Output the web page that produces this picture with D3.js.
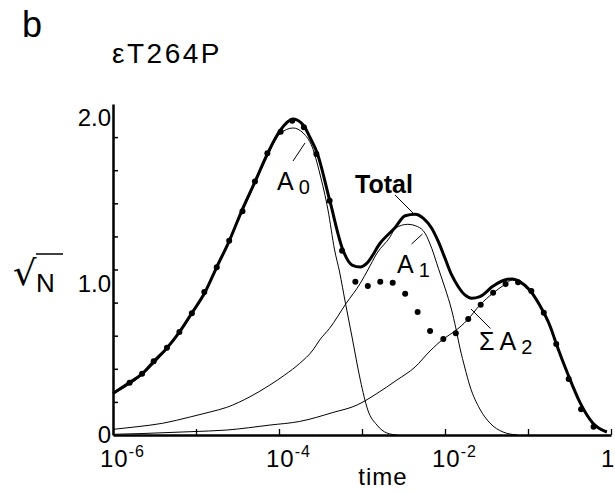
<!DOCTYPE html>
<html>
<head>
<meta charset="utf-8">
<script src="https://cdn.jsdelivr.net/npm/d3@7"></script>
<style>
  body { margin: 0; background: #fff; }
  text { font-family: "Liberation Sans", Arial, sans-serif; fill: #000; }
</style>
</head>
<body>
<svg id="chart" width="615" height="494"></svg>
<script>
// data (time given as log10 exponent)
const dotLogT = [-5.80, -5.65, -5.51, -5.35, -5.20, -5.05, -4.90, -4.75, -4.60, -4.44, -4.29, -4.14, -3.98,
  -3.84, -3.70, -3.55, -3.39, -3.24, -3.08, -2.93, -2.78, -2.63, -2.48, -2.33, -2.18, -2.02, -1.87,
  -1.72, -1.57, -1.42, -1.27, -1.12, -0.96, -0.81, -0.66, -0.51, -0.36, -0.21];
const dotVal = [0.316, 0.370, 0.445, 0.527, 0.622, 0.735, 0.864, 1.013, 1.174, 1.352, 1.531, 1.702, 1.833,
  1.899, 1.859, 1.698, 1.416, 1.114, 0.926, 0.900, 0.926, 0.920, 0.854, 0.743, 0.628, 0.580, 0.615,
  0.701, 0.787, 0.860, 0.912, 0.923, 0.870, 0.739, 0.550, 0.338, 0.155, 0.050];

const totalLogT = [-6.00, -5.81, -5.65, -5.51, -5.35, -5.20, -5.05, -4.89, -4.75, -4.60, -4.45, -4.29, -4.14,
  -3.99, -3.83, -3.70, -3.63, -3.54, -3.39, -3.23, -3.12, -3.02, -2.94, -2.78, -2.60, -2.48, -2.36,
  -2.26, -2.16, -2.08, -2.00, -1.92, -1.84, -1.76, -1.68, -1.58, -1.42, -1.28, -1.19, -1.10, -0.98,
  -0.86, -0.73, -0.65, -0.53, -0.37, -0.22, -0.05];
const totalVal = [0.251, 0.314, 0.369, 0.444, 0.526, 0.622, 0.737, 0.864, 1.015, 1.172, 1.353, 1.529, 1.698,
  1.837, 1.909, 1.867, 1.801, 1.704, 1.420, 1.118, 1.027, 1.015, 1.039, 1.160, 1.254, 1.325, 1.334,
  1.309, 1.249, 1.168, 1.068, 0.967, 0.896, 0.846, 0.826, 0.836, 0.900, 0.937, 0.943, 0.927, 0.876,
  0.785, 0.653, 0.538, 0.381, 0.193, 0.073, 0.018];

const a0LogT = [-6.00, -5.65, -5.35, -5.05, -4.75, -4.45, -4.29, -4.14, -3.99, -3.83, -3.71, -3.60, -3.51,
  -3.41, -3.33, -3.27, -3.20, -3.12, -3.02, -2.93, -2.82, -2.70, -2.58];
const a0Val = [0.248, 0.363, 0.520, 0.731, 1.006, 1.344, 1.520, 1.686, 1.819, 1.855, 1.825, 1.740, 1.583,
  1.360, 1.118, 0.985, 0.798, 0.592, 0.332, 0.151, 0.060, 0.012, 0.000];

const a1LogT = [-6.00, -5.71, -5.40, -5.07, -4.83, -4.63, -4.35, -4.11, -3.93, -3.75, -3.59, -3.51, -3.39,
  -3.19, -3.02, -2.93, -2.82, -2.66, -2.60, -2.45, -2.33, -2.24, -2.16, -2.08, -2.00, -1.92, -1.87,
  -1.82, -1.76, -1.70, -1.58, -1.46, -1.30, -1.13];
const a1Val = [0.034, 0.050, 0.071, 0.109, 0.139, 0.167, 0.231, 0.302, 0.363, 0.433, 0.514, 0.574, 0.645,
  0.796, 0.917, 0.997, 1.098, 1.198, 1.249, 1.273, 1.259, 1.219, 1.128, 1.007, 0.888, 0.755, 0.647,
  0.526, 0.405, 0.296, 0.157, 0.073, 0.018, 0.000];

const a2LogT = [-6.00, -5.64, -5.07, -4.63, -4.11, -3.75, -3.35, -3.06, -2.82, -2.58, -2.36, -2.18, -2.02,
  -1.88, -1.73, -1.58, -1.42, -1.28, -1.19, -1.10, -0.98, -0.86, -0.73, -0.65, -0.53, -0.37, -0.22, -0.05];
const a2Val = [0.004, 0.009, 0.020, 0.030, 0.060, 0.082, 0.136, 0.181, 0.251, 0.332, 0.411, 0.508, 0.580,
  0.628, 0.695, 0.785, 0.858, 0.909, 0.937, 0.921, 0.870, 0.779, 0.647, 0.532, 0.375, 0.187, 0.066, 0.018];

const yTickValues = [0.2, 0.4, 0.6, 0.8, 1.0, 1.2, 1.4, 1.6, 1.8];
const yLabels = [{ v: 0, t: "0" }, { v: 1.0, t: "1.0" }, { v: 2.0, t: "2.0" }];
const xMajor = [1e-6, 1e-5, 1e-4, 1e-3, 1e-2, 1e-1, 1];
const xLabels = [{ v: 1e-6, exp: "-6" }, { v: 1e-4, exp: "-4" }, { v: 1e-2, exp: "-2" }, { v: 1, exp: "" }];

const svg = d3.select("#chart");
svg.append("rect").attr("width", 615).attr("height", 494).attr("fill", "#fff");

const x = d3.scaleLog().domain([1e-6, 1]).range([113, 611]);
const y = d3.scaleLinear().domain([0, 2]).range([435, 104]);

const pts = (lt, vals) => lt.map((l, i) => ({ t: Math.pow(10, l), v: vals[i] }));
const line = d3.line().x(d => x(d.t)).y(d => y(d.v)).curve(d3.curveMonotoneX);

// axes, ticks pointing inward
const minor = x.ticks().filter(t => !xMajor.some(m => Math.abs(m - t) / m < 1e-6));
const xg = svg.append("g").attr("transform", "translate(0,435)");
xg.call(d3.axisBottom(x).tickValues(minor).tickSize(-3.5).tickFormat("").tickSizeOuter(0));
xg.call(d3.axisBottom(x).tickValues(xMajor).tickSize(-6).tickFormat("").tickSizeOuter(0));
xg.selectAll(".domain").attr("stroke-width", 2.5);
xg.selectAll(".tick line").attr("stroke-width", 1.3);

const yg = svg.append("g").attr("transform", "translate(113,0)");
yg.call(d3.axisLeft(y).tickValues(yTickValues).tickSize(-5).tickFormat("").tickSizeOuter(0));
yg.selectAll(".domain").attr("stroke-width", 2.5);
yg.selectAll(".tick line").attr("stroke-width", 1.5);

// tick labels
svg.selectAll("text.ylab").data(yLabels).enter().append("text")
  .attr("class", "ylab")
  .attr("x", 111)
  .attr("y", d => d.v === 0 ? y(d.v) + 8 : y(d.v) + 22)
  .attr("text-anchor", "end")
  .attr("font-size", 24)
  .text(d => d.t);

const xl = svg.selectAll("text.xlab").data(xLabels).enter().append("text")
  .attr("class", "xlab")
  .attr("x", d => d.exp ? x(d.v) - 13 : 601)
  .attr("y", 467)
  .attr("font-size", 24)
  .attr("letter-spacing", d => d.exp ? 1 : 0);
xl.append("tspan").text(d => d.exp ? "10" : "1");
xl.append("tspan").attr("dy", -10).attr("font-size", 16).text(d => d.exp);

svg.append("text").attr("x", 383).attr("y", 485).attr("text-anchor", "middle")
  .attr("font-size", 24).attr("letter-spacing", 1).text("time");

// y title: sqrt(N), radical fitted to the box it takes in the figure
const rad = svg.append("text").attr("font-size", 40)
  .style("font-family", "'DejaVu Sans', sans-serif").text("√");
const rb = rad.node().getBBox();
const sx = 24 / rb.width, sy = 40 / rb.height;
rad.attr("transform", `translate(${13 - rb.x * sx},${253 - rb.y * sy}) scale(${sx},${sy})`);
svg.append("text").attr("x", 36).attr("y", 292).attr("font-size", 26).text("N");
svg.append("line").attr("x1", 36).attr("x2", 63)
  .attr("y1", 254).attr("y2", 254).attr("stroke", "#000").attr("stroke-width", 1.5);

// panel letter and title
svg.append("text").attr("x", 22).attr("y", 37).attr("font-size", 36).text("b");
svg.append("text").attr("x", 112).attr("y", 63).attr("font-size", 28)
  .attr("letter-spacing", 2.5).text("εT264P");

// curves
const curves = [
  { lt: a2LogT, v: a2Val, w: 1 },
  { lt: a1LogT, v: a1Val, w: 1 },
  { lt: a0LogT, v: a0Val, w: 1 },
  { lt: totalLogT, v: totalVal, w: 3 }
];
svg.selectAll("path.curve").data(curves).enter().append("path")
  .attr("class", "curve")
  .attr("d", d => line(pts(d.lt, d.v)))
  .attr("fill", "none")
  .attr("stroke", "#000")
  .attr("stroke-width", d => d.w)
  .attr("stroke-linejoin", "round");

// data points
svg.selectAll("circle.dot").data(pts(dotLogT, dotVal)).enter().append("circle")
  .attr("class", "dot")
  .attr("cx", d => x(d.t))
  .attr("cy", d => y(d.v))
  .attr("r", 3)
  .attr("fill", "#000");

// annotations with leader lines
const leaders = [
  [293, 161, 305, 143],
  [395, 195, 413, 213],
  [411.5, 244, 422.5, 234],
  [471, 309, 490.5, 328.5]
];
svg.selectAll("line.leader").data(leaders).enter().append("line")
  .attr("class", "leader")
  .attr("x1", d => d[0]).attr("y1", d => d[1])
  .attr("x2", d => d[2]).attr("y2", d => d[3])
  .attr("stroke", "#000").attr("stroke-width", 1);

function label(xp, yp, parts) {
  const t = svg.append("text").attr("x", xp).attr("y", yp).attr("font-size", 25);
  parts.forEach(p => {
    const s = t.append("tspan").text(p.s);
    if (p.sub) s.attr("font-size", 20).attr("dy", 4).attr("dx", 5);
    if (p.dx) s.attr("dx", p.dx);
  });
  return t;
}
label(277, 190, [{ s: "A" }, { s: "0", sub: true }]);
label(397, 273, [{ s: "A" }, { s: "1", sub: true }]);
label(479, 350, [{ s: "Σ" }, { s: "A", dx: 5 }, { s: "2", sub: true }]);
svg.append("text").attr("x", 355).attr("y", 193).attr("font-size", 25)
  .attr("font-weight", "bold").text("Total");
</script>
</body>
</html>
